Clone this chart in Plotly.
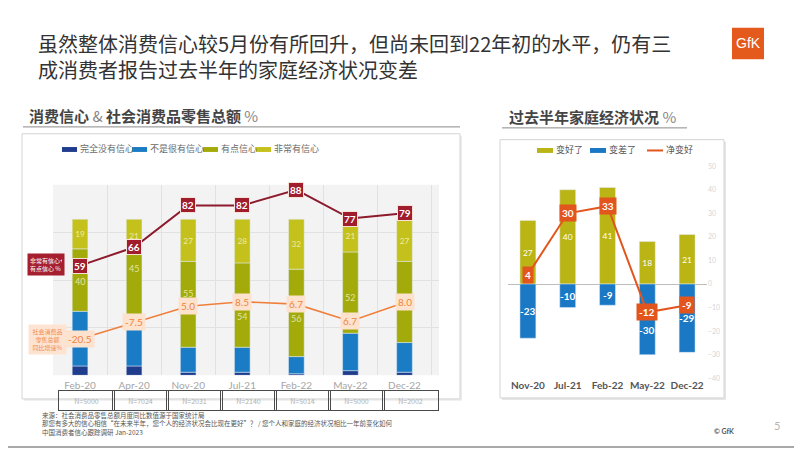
import plotly.graph_objects as go

# the page body adds an 8px margin, so the figure is laid out 8px in
OFF = 8
W, H = 802 - OFF, 451 - OFF
CJK = "Noto Sans CJK SC"

# left chart: consumer confidence (%), retail sales growth (%)
months = ["Feb-20", "Apr-20", "Nov-20", "Jul-21", "Feb-22", "May-22", "Dec-22"]
sample_sizes = ["N=5000", "N=7024", "N=2031", "N=2140", "N=5014", "N=5000", "N=2002"]
no_conf = [6, 6, 2, 2, 1, 3, 2]
not_very_conf = [35, 28, 16, 16, 11, 24, 19]
some_conf = [40, 45, 55, 54, 56, 52, 52]
some_conf_labels = ["40", "45", "55", "54", "56", "52", ""]
very_conf = [19, 21, 27, 28, 32, 21, 27]
conf_total = [59, 66, 82, 82, 88, 77, 79]
retail_growth = [-20.5, -7.5, 5.0, 8.5, 6.7, -6.7, 8.0]
retail_labels = ["-20.5", "-7.5", "5.0", "8.5", "6.7", "6.7", "8.0"]

# right chart: household finances vs half a year ago (%)
periods = ["Nov-20", "Jul-21", "Feb-22", "May-22", "Dec-22"]
better = [27, 40, 41, 18, 21]
worse = [-23, -10, -9, -30, -29]
net_better = [4, 30, 33, -12, -9]
right_ticks = [50, 40, 30, 20, 10, 0, -10, -20, -30, -40]

# where inside a segment its label sits (0 = base, 1 = end)
some_label_frac = [0.47, 0.77, 0.62, 0.36, 0.44, 0.44, 0.5]
worse_label_frac = [0.5, 0.5, 0.5, 0.65, 0.5]


def fx(px):
    return (px - OFF) / W


def fy(py):
    return 1 - (py - OFF) / H


fig = go.Figure()

left_series = [
    ("完全没有信心", no_conf, "#1f3d8c"),
    ("不是很有信心", not_very_conf, "#1b7cc6"),
    ("有点信心", some_conf, "#a3ab0b"),
    ("非常有信心", very_conf, "#c5c11c"),
]
for name, vals, col in left_series:
    fig.add_trace(go.Bar(
        x=months, y=vals, name=name, marker_color=col, width=0.29,
        text=vals if name == "非常有信心" else None, textposition="inside",
        insidetextanchor="middle", textangle=0,
        textfont=dict(size=9, color="rgba(255,255,225,0.7)", family="Lato"),
        xaxis="x", yaxis="y", showlegend=False, hoverinfo="skip"))

fig.add_trace(go.Scatter(
    x=months, y=conf_total, mode="lines", line=dict(color="#8c1b2d", width=2),
    xaxis="x", yaxis="y2", showlegend=False))
fig.add_trace(go.Scatter(
    x=months, y=retail_growth, mode="lines", line=dict(color="#f07f3c", width=1.6),
    xaxis="x", yaxis="y3", showlegend=False))

# right chart
fig.add_trace(go.Bar(
    x=periods, y=better, name="变好了", marker_color="#bab415", width=0.4,
    text=better, textposition="inside", insidetextanchor="middle", textangle=0,
    textfont=dict(size=10, color="white", family="Lato"),
    xaxis="x2", yaxis="y4", showlegend=False))
fig.add_trace(go.Bar(
    x=periods, y=worse, name="变差了", marker_color="#1b78c4", width=0.4,
    xaxis="x2", yaxis="y4", showlegend=False))
fig.add_trace(go.Scatter(
    x=periods, y=net_better, name="净变好", mode="lines",
    line=dict(color="#e2561d", width=2),
    xaxis="x2", yaxis="y4", showlegend=False))

ann = []
# segment labels placed along the bar axis
for i, m in enumerate(months):
    base = no_conf[i] + not_very_conf[i]
    ann.append(dict(x=m, y=base + some_conf[i] * some_label_frac[i], xref="x", yref="y",
                    text=some_conf_labels[i], showarrow=False, yanchor="middle",
                    font=dict(size=9, color="rgba(255,255,225,0.7)", family="Lato")))
for p, v, f in zip(periods, worse, worse_label_frac):
    ann.append(dict(x=p, y=v * f, xref="x2", yref="y4", text="<b>%d</b>" % v,
                    showarrow=False, yanchor="middle",
                    font=dict(size=10, color="white", family="Lato")))
for m, v in zip(months, conf_total):
    ann.append(dict(x=m, y=v, xref="x", yref="y2", text="<b>%d</b>" % v,
                    showarrow=False, yanchor="middle", bgcolor="#a01d2d",
                    bordercolor="#f6e3d6", borderwidth=1, borderpad=1,
                    font=dict(size=10, color="white", family="Lato")))
for m, v, t in zip(months, retail_growth, retail_labels):
    ann.append(dict(x=m, y=v, xref="x", yref="y3", text=t, showarrow=False,
                    yanchor="middle", bgcolor="#fde2cd", borderpad=2,
                    font=dict(size=10, color="#ee8540", family="Lato")))
for p, v in zip(periods, net_better):
    ann.append(dict(x=p, y=v, xref="x2", yref="y4", text="<b>%d</b>" % v,
                    showarrow=False, yanchor="middle", bgcolor="#e2561d", borderpad=2,
                    font=dict(size=10, color="white", family="Lato")))
# sample size row
for m, n in zip(months, sample_sizes):
    ann.append(dict(x=m, y=fy(402.5), xref="x", yref="paper", text=n,
                    showarrow=False, yanchor="middle", width=53, height=17, xshift=6,
                    bordercolor="#4a4a4a", borderwidth=1,
                    font=dict(size=7, color="#b0b0b0", family=CJK)))

shapes = []

# hand-made legends (short flat swatches like the original)
left_legend_x = [62, 132, 203, 256]
for (name, vals, col), lx in zip(left_series, left_legend_x):
    shapes.append(dict(type="rect", xref="paper", yref="paper", x0=fx(lx), x1=fx(lx + 15),
                       y0=fy(149.5), y1=fy(144.5), fillcolor=col, line_width=0))
    ann.append(dict(x=fx(lx + 16), y=fy(146), text=name,
                    font=dict(size=9, color="#6a6a6a", family=CJK)))
right_legend = [("变好了", "#bab415", 537, "bar"), ("变差了", "#1b78c4", 590, "bar"),
                ("净变好", "#e2561d", 647, "line")]
for name, col, lx, kind in right_legend:
    if kind == "bar":
        shapes.append(dict(type="rect", xref="paper", yref="paper", x0=fx(lx), x1=fx(lx + 16),
                           y0=fy(150.5), y1=fy(145.5), fillcolor=col, line_width=0))
    else:
        shapes.append(dict(type="line", xref="paper", yref="paper", x0=fx(lx), x1=fx(lx + 16),
                           y0=fy(148), y1=fy(148), line=dict(color=col, width=2)))
    ann.append(dict(x=fx(lx + 17), y=fy(147), text=name,
                    font=dict(size=9, color="#555555", family=CJK)))

# titles and notes
ann += [
    dict(x=fx(36), y=fy(52), align="left",
         text="虽然整体消费信心较5月份有所回升，但尚未回到22年初的水平，仍有三<br>"
              "成消费者报告过去半年的家庭经济状况变差",
         font=dict(size=20, color="#333333", family=CJK)),
    dict(x=fx(27), y=fy(112),
         text="<b>消费信心</b> <span style='color:#888'>&</span> <b>社会消费品零售总额</b> <span style='color:#888'>%</span>",
         font=dict(size=15, color="#444444", family=CJK)),
    dict(x=fx(507), y=fy(113),
         text="<b>过去半年家庭经济状况</b> <span style='color:#888'>%</span>",
         font=dict(size=15, color="#444444", family=CJK)),
    dict(x=fx(27), y=fy(264), text="非常有信心+<br>有点信心 %", align="left",
         bgcolor="#a51f2e", borderpad=2, width=32,
         font=dict(size=6, color="white", family=CJK)),
    dict(x=fx(28), y=fy(340), text="社会消费品<br>零售总额<br>同比增速%", align="center",
         bgcolor="#fde4d2", borderpad=2, width=33,
         font=dict(size=6, color="#f08a4a", family=CJK)),
    dict(x=fx(40), y=fy(426.5), align="left",
         text="来源：社会消费品零售总额月度同比数值源于国家统计局<br>"
              "那您有多大的信心相信“在未来半年，您个人的经济状况会比现在更好”？ / 您个人和家庭的经济状况相比一年前变化如何<br>"
              "中国消费者信心跟踪调研 Jan-2023",
         font=dict(size=6.5, color="#555555", family=CJK)),
    dict(x=fx(712), y=fy(434), text="<b>© GfK</b>",
         font=dict(size=7, color="#555555", family="Lato")),
    dict(x=fx(772), y=fy(428), text="5",
         font=dict(size=11, color="#b5b5b5", family="Lato")),
    dict(x=fx(748), y=fy(39), xanchor="center", text="GfK",
         font=dict(size=14, color="white", family="Liberation Sans")),
]
for a in ann:
    if a.get("xref") is None:
        a.update(xref="paper", yref="paper", showarrow=False,
                 xanchor=a.get("xanchor", "left"), yanchor="middle")

shapes += [
    # panels
    dict(type="rect", xref="paper", yref="paper", x0=fx(24), x1=fx(462),
         y0=fy(403), y1=fy(133), fillcolor="#ececec", line_width=0, layer="below"),
    dict(type="rect", xref="paper", yref="paper", x0=fx(22), x1=fx(460),
         y0=fy(401), y1=fy(131), fillcolor="white",
         line=dict(color="#d4d4d4", width=1), layer="below"),
    dict(type="rect", xref="paper", yref="paper", x0=fx(502), x1=fx(726),
         y0=fy(402), y1=fy(139), fillcolor="#e6e6e6", line_width=0, layer="below"),
    dict(type="rect", xref="paper", yref="paper", x0=fx(500), x1=fx(724),
         y0=fy(400), y1=fy(137), fillcolor="white",
         line=dict(color="#d4d4d4", width=1), layer="below"),
    # left plot background
    dict(type="rect", xref="x domain", yref="y domain", x0=0, x1=1, y0=0, y1=1,
         fillcolor="#f3f3f3", line_width=0, layer="below"),
    # title underlines
    dict(type="line", xref="paper", yref="paper", x0=fx(23), x1=fx(460),
         y0=fy(124), y1=fy(124), line=dict(color="#8a8a8a", width=1)),
    dict(type="line", xref="paper", yref="paper", x0=fx(502), x1=fx(687),
         y0=fy(125), y1=fy(125), line=dict(color="#8a8a8a", width=1)),
    # GfK logo
    dict(type="rect", xref="paper", yref="paper", x0=fx(732), x1=fx(764),
         y0=fy(55), y1=fy(23), fillcolor="#e45a1c", line_width=0, layer="below"),
    # slide edges
    dict(type="line", xref="paper", yref="paper", x0=0, x1=1, y0=fy(450), y1=fy(450),
         line=dict(color="#8c8c8c", width=1.5)),
    dict(type="line", xref="paper", yref="paper", x0=fx(801), x1=fx(801), y0=0, y1=1,
         line=dict(color="#8c8c8c", width=1.5)),
]

fig.update_layout(
    width=W, height=H, margin=dict(l=0, r=0, t=0, b=0),
    paper_bgcolor="white", plot_bgcolor="rgba(0,0,0,0)",
    barmode="relative", font=dict(family=CJK), showlegend=False,
    annotations=ann, shapes=shapes,
    xaxis=dict(domain=[fx(53), fx(439)], anchor="y", type="category",
               showgrid=True, tickson="boundaries", gridcolor="#e1e1e1",
               ticks="", ticklabelstandoff=3,
               tickfont=dict(size=10, color="#a5a5a5", family="Lato"),
               fixedrange=True),
    yaxis=dict(domain=[fy(377), fy(183)], anchor="x", range=[0, 122], dtick=30.5,
               showticklabels=False, gridcolor="#e1e1e1", zeroline=False),
    yaxis2=dict(overlaying="y", anchor="x", range=[17, 89.9], visible=False),
    yaxis3=dict(overlaying="y", anchor="x", range=[-49, 100], visible=False),
    xaxis2=dict(domain=[fx(508), fx(707)], anchor="y4", type="category",
                showgrid=False, ticks="",
                tickfont=dict(size=10, color="#555555", family="Lato"),
                tickprefix="<b>", ticksuffix="</b>"),
    yaxis4=dict(domain=[fy(380), fy(164)], anchor="x2", side="right",
                range=[-40, 50], tickvals=right_ticks, showgrid=False,
                zeroline=True, zerolinecolor="#bdbdbd", zerolinewidth=1,
                tickfont=dict(size=7, color="#d6d6d6", family="Lato")),
)

fig.write_html("out.html")
